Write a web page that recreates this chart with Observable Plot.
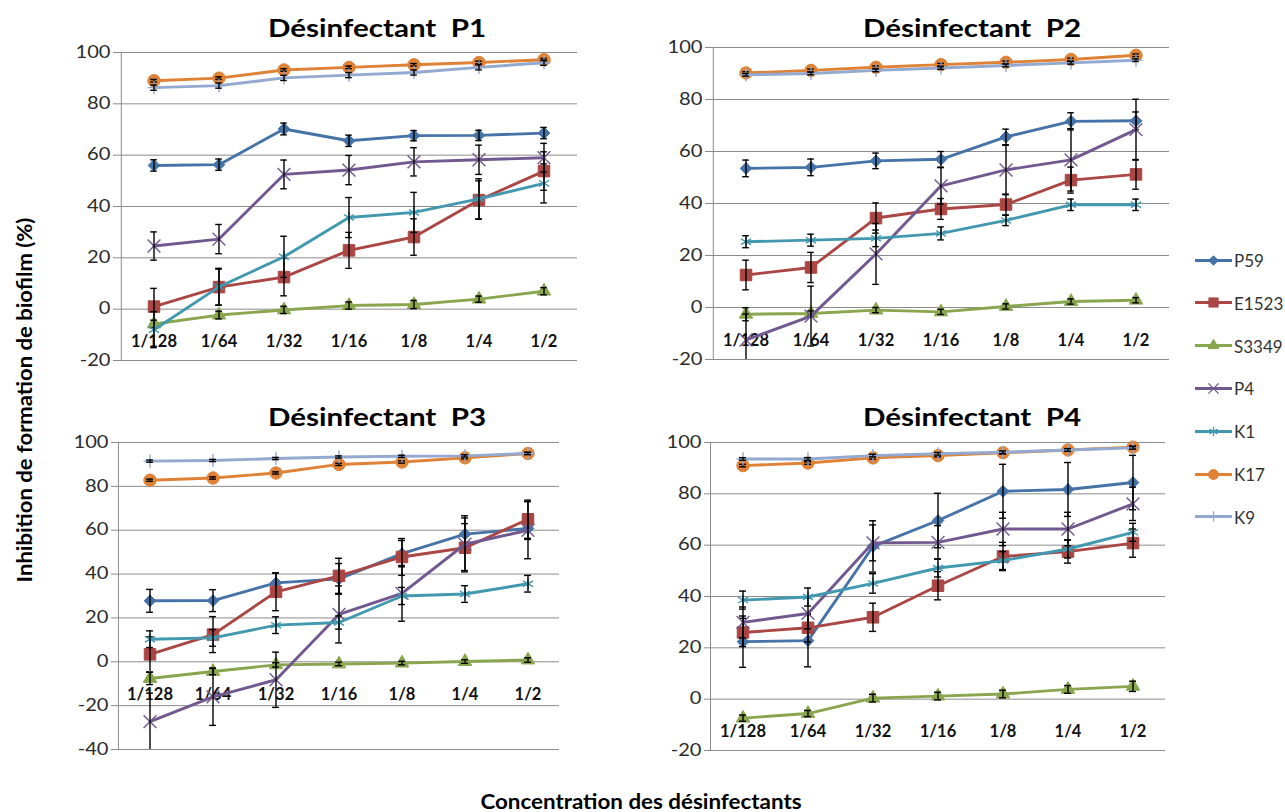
<!DOCTYPE html>
<html>
<head>
<meta charset="utf-8">
<script src="https://cdn.jsdelivr.net/npm/d3@7"></script>
<script src="https://cdn.jsdelivr.net/npm/@observablehq/plot@0.6"></script>
<style>
  body { margin: 0; background: #fff; }
  #root { position: relative; width: 1285px; height: 812px; overflow: hidden; background: #fff; font-family: Lato, "Open Sans", sans-serif; }
  .ptitle { position: absolute; font-weight: bold; font-size: 24px; color: #000; transform: translate(-50%, -50%) scaleX(1.23); white-space: pre; line-height: 1; }
  .ytitle { position: absolute; left: 23px; top: 400px; transform: translate(-50%, -50%) rotate(-90deg) scaleX(1.05); font-weight: bold; font-size: 21px; white-space: nowrap; color: #000; line-height: 1; }
  .xtitle { position: absolute; left: 641px; top: 800px; transform: translate(-50%, -50%) scaleX(1.065); font-weight: bold; font-size: 21px; white-space: nowrap; color: #000; line-height: 1; }
  .panel { position: absolute; }
  .panel svg { overflow: visible; }
  .leg { position: absolute; left: 1195px; display: flex; align-items: center; transform: translateY(-50%); font-size: 17px; color: #333; }
</style>
</head>
<body>
<div id="root"></div>
<script>
// ---------- data ----------
const series = ["P59", "E1523", "S3349", "P4", "K1", "K17", "K9"];
const concentrations = ["1/128", "1/64", "1/32", "1/16", "1/8", "1/4", "1/2"];
const panelTitles = ["Désinfectant  P1", "Désinfectant  P2", "Désinfectant  P3", "Désinfectant  P4"];
const yTicksMain = [-20, 0, 20, 40, 60, 80, 100];
const yTicksP3 = [-40, -20, 0, 20, 40, 60, 80, 100];
const yAxisTitle = "Inhibition de formation de biofilm (%)";
const xAxisTitle = "Concentration des désinfectants";

// rows follow the order of `series`
const p1Values = [
  [56.0, 56.3, 70.2, 65.6, 67.6, 67.7, 68.6],
  [1.0, 8.6, 12.5, 22.9, 28.1, 42.5, 53.8],
  [-5.8, -2.3, -0.3, 1.4, 1.8, 3.9, 7.0],
  [24.6, 27.3, 52.5, 54.2, 57.4, 58.2, 59.0],
  [-8.0, 8.7, 20.4, 35.7, 37.7, 43.0, 49.0],
  [89.0, 90.0, 93.2, 94.2, 95.2, 96.1, 97.2],
  [86.3, 87.1, 90.1, 91.2, 92.2, 94.2, 96.0]
];
const p1Errors = [
  [2.2, 2.2, 2.3, 2.2, 2.0, 2.0, 2.2],
  [7.1, 7.0, 7.3, 7.0, 7.1, 7.5, 7.5],
  [1.5, 1.5, 1.4, 1.4, 1.6, 1.2, 1.4],
  [5.5, 5.7, 5.6, 5.7, 5.5, 5.7, 5.6],
  [7.0, 7.2, 8.0, 7.8, 7.8, 7.8, 7.6],
  [0.5, 0.5, 0.5, 0.5, 0.5, 0.5, 0.5],
  [1.0, 1.0, 1.0, 1.0, 1.0, 1.0, 1.0]
];
const p2Values = [
  [53.5, 53.9, 56.4, 57.0, 65.6, 71.6, 71.8],
  [12.5, 15.4, 34.4, 37.9, 39.6, 49.0, 51.2],
  [-2.6, -2.3, -1.0, -1.7, 0.4, 2.3, 2.8],
  [-12.5, -3.3, 20.6, 46.8, 52.9, 56.8, 68.4],
  [25.3, 25.9, 26.6, 28.5, 33.5, 39.5, 39.5],
  [90.2, 91.2, 92.4, 93.4, 94.3, 95.4, 97.0],
  [89.5, 90.0, 91.2, 92.1, 93.1, 94.1, 95.1]
];
const p2Errors = [
  [3.2, 3.2, 3.0, 3.0, 3.0, 3.3, 3.4],
  [5.7, 5.8, 5.8, 4.0, 4.0, 5.0, 5.7],
  [2.5, 1.0, 1.0, 1.0, 1.0, 1.0, 1.0],
  [10.0, 11.5, 11.7, 7.0, 9.5, 12.0, 11.7],
  [2.3, 2.3, 3.2, 2.5, 2.0, 2.2, 2.2],
  [0.5, 0.5, 0.5, 0.5, 0.5, 0.5, 0.5],
  [0.5, 0.5, 0.5, 0.5, 0.5, 0.5, 0.5]
];
const p3Values = [
  [27.8, 27.9, 36.0, 37.8, 49.3, 58.2, 60.8],
  [3.4, 12.4, 31.9, 39.2, 47.8, 52.0, 65.0],
  [-7.6, -4.4, -1.4, -1.0, -0.6, 0.1, 0.8],
  [-27.3, -16.0, -8.2, 21.6, 31.2, 53.6, 60.0],
  [10.3, 10.9, 16.7, 17.9, 30.0, 30.9, 35.6],
  [82.8, 83.8, 86.1, 90.0, 91.1, 93.0, 95.0],
  [91.5, 91.8, 92.7, 93.4, 93.7, 93.9, 95.0]
];
const p3Errors = [
  [5.2, 5.0, 4.5, 7.0, 6.0, 8.4, 5.0],
  [8.0, 8.2, 8.6, 8.0, 8.4, 11.0, 8.7],
  [2.8, 1.5, 1.0, 0.8, 0.8, 0.8, 1.0],
  [13.0, 13.0, 12.6, 13.0, 12.7, 12.0, 13.0],
  [3.8, 3.8, 3.8, 3.0, 3.9, 3.8, 3.8],
  [0.5, 0.5, 0.5, 0.5, 0.5, 0.5, 0.5],
  [0.5, 0.5, 0.5, 0.5, 0.5, 0.5, 0.5]
];
const p4Values = [
  [22.4, 22.8, 59.5, 69.6, 81.0, 81.7, 84.4],
  [26.0, 27.8, 31.9, 44.2, 55.6, 57.5, 60.8],
  [-7.4, -5.6, 0.4, 1.2, 2.0, 3.8, 5.0],
  [29.9, 33.4, 60.9, 61.1, 66.3, 66.3, 76.1],
  [38.6, 39.8, 45.1, 51.1, 54.0, 58.5, 65.0],
  [91.0, 92.0, 94.0, 94.9, 96.0, 97.1, 98.2],
  [93.6, 93.6, 94.9, 95.6, 96.2, 97.1, 97.9]
];
const p4Errors = [
  [10.0, 10.2, 10.0, 10.6, 10.5, 10.5, 10.6],
  [5.5, 5.5, 5.5, 5.5, 5.5, 4.5, 5.5],
  [1.2, 1.2, 1.5, 1.5, 1.5, 1.5, 2.0],
  [6.0, 6.0, 7.0, 6.5, 6.5, 6.5, 6.5],
  [3.5, 3.5, 3.8, 3.5, 3.5, 3.5, 3.5],
  [0.5, 0.5, 0.5, 0.5, 0.5, 0.5, 0.5],
  [0.5, 0.5, 0.5, 0.5, 0.5, 0.5, 0.5]
];

// ---------- styles ----------
const seriesColors = ["#4572A7", "#AA4643", "#89A54E", "#71588F", "#4198AF", "#DF8236", "#93A9CF"];
const seriesSymbols = ["diamond2", "square", "triangle", "times", "asterisk", "circle", "plus"];
const seriesSymbolR = [5.3, 6.5, 5.0, 5.9, 5.5, 6.2, 4.3];
const seriesFilled = [true, true, true, false, false, true, false];
const gridColor = "#8c8c8c";

const panels = [
  {title: panelTitles[0], values: p1Values, errors: p1Errors, ticks: yTicksMain, left: 119, right: 577, top: 52, bottom: 360, titleX: 377, titleY: 28},
  {title: panelTitles[1], values: p2Values, errors: p2Errors, ticks: yTicksMain, left: 711, right: 1169, top: 47, bottom: 359, titleX: 972, titleY: 28},
  {title: panelTitles[2], values: p3Values, errors: p3Errors, ticks: yTicksP3, left: 117, right: 559, top: 442, bottom: 749, titleX: 377, titleY: 417},
  {title: panelTitles[3], values: p4Values, errors: p4Errors, ticks: yTicksMain, left: 710, right: 1165, top: 442, bottom: 750, titleX: 972, titleY: 417}
];

const root = document.getElementById("root");

function drawPanel(cfg) {
  const ml = 60, mr = 15, mt = 15, mb = 15;
  const width = cfg.right - cfg.left + ml + mr;
  const height = cfg.bottom - cfg.top + mt + mb;
  const bw = (cfg.right - cfg.left) / concentrations.length;
  const capInset = (bw - 7) / 2;

  const rows = [];
  series.forEach((s, si) => concentrations.forEach((c, ci) => {
    rows.push({series: s, si, conc: c, v: cfg.values[si][ci], e: cfg.errors[si][ci]});
  }));

  const marks = [
    Plot.gridY({ticks: cfg.ticks, stroke: gridColor, strokeOpacity: 1, strokeWidth: 1}),
    Plot.axisY({ticks: cfg.ticks, tickSize: 6, tickPadding: 3, stroke: gridColor, fill: "#2b2b2b", fontSize: 16.5, label: null, tickFormat: d => String(d)}),
    Plot.ruleX([concentrations[0]], {x: d => d, dx: -bw / 2, stroke: gridColor, strokeWidth: 1}),
    Plot.text(concentrations, {x: d => d, y: () => 0, dy: 33, text: d => d, fontWeight: "bold", fontSize: 16.5, fill: "#111"})
  ];
  series.forEach((s, si) => {
    const sr = rows.filter(d => d.si === si);
    const col = seriesColors[si];
    marks.push(Plot.line(sr, {x: "conc", y: "v", stroke: col, strokeWidth: 2.9}));
    marks.push(Plot.dot(sr, {
      x: "conc", y: "v", symbol: seriesSymbols[si], r: seriesSymbolR[si],
      fill: seriesFilled[si] ? col : "none", stroke: col, strokeWidth: seriesFilled[si] ? 1 : 1.4
    }));
    marks.push(Plot.ruleX(sr, {x: "conc", y1: d => d.v - d.e, y2: d => d.v + d.e, stroke: "#000", strokeWidth: 1.4, clip: true}));
    marks.push(Plot.tickY(sr, {x: "conc", y: d => d.v + d.e, insetLeft: capInset, insetRight: capInset, stroke: "#000", strokeWidth: 1.4, clip: true}));
    marks.push(Plot.tickY(sr, {x: "conc", y: d => d.v - d.e, insetLeft: capInset, insetRight: capInset, stroke: "#000", strokeWidth: 1.4, clip: true}));
  });

  const svg = Plot.plot({
    width, height,
    marginLeft: ml, marginRight: mr, marginTop: mt, marginBottom: mb,
    style: {fontFamily: "Lato, 'Open Sans', sans-serif", background: "transparent", overflow: "visible"},
    x: {type: "band", domain: concentrations, padding: 0, axis: null},
    y: {domain: [cfg.ticks[0], cfg.ticks[cfg.ticks.length - 1]], axis: null},
    marks
  });
  const wrap = document.createElement("div");
  wrap.className = "panel";
  wrap.style.left = (cfg.left - ml) + "px";
  wrap.style.top = (cfg.top - mt) + "px";
  wrap.appendChild(svg);
  root.appendChild(wrap);

  // widen the y tick labels to match the reference's letter shapes
  svg.querySelectorAll('g[aria-label="y-axis tick label"] text').forEach(el => {
    const L = el.getComputedTextLength();
    if (L > 0) {
      el.setAttribute("textLength", (L * 1.22).toFixed(1));
      el.setAttribute("lengthAdjust", "spacingAndGlyphs");
    }
  });

  const t = document.createElement("div");
  t.className = "ptitle";
  t.textContent = cfg.title;
  t.style.left = cfg.titleX + "px";
  t.style.top = cfg.titleY + "px";
  root.appendChild(t);
}

panels.forEach(drawPanel);

// axis titles
const yt = document.createElement("div");
yt.className = "ytitle"; yt.textContent = yAxisTitle; root.appendChild(yt);
const xt = document.createElement("div");
xt.className = "xtitle"; xt.textContent = xAxisTitle; root.appendChild(xt);

// legend
const d3Symbols = {diamond2: d3.symbolDiamond2, square: d3.symbolSquare, triangle: d3.symbolTriangle, times: d3.symbolTimes, asterisk: d3.symbolAsterisk, circle: d3.symbolCircle, plus: d3.symbolPlus};
const legendTop = 260, legendStep = 42.8;
series.forEach((s, si) => {
  const row = document.createElement("div");
  row.className = "leg";
  row.style.top = (legendTop + si * legendStep) + "px";
  const sw = d3.create("svg").attr("width", 39).attr("height", 16);
  sw.append("line").attr("x1", 0).attr("x2", 37).attr("y1", 8).attr("y2", 8).attr("stroke", seriesColors[si]).attr("stroke-width", 2.9);
  const r = seriesSymbolR[si] * 0.8;
  sw.append("path")
    .attr("transform", "translate(18.5,8)")
    .attr("d", d3.symbol(d3Symbols[seriesSymbols[si]], Math.PI * r * r)())
    .attr("fill", seriesFilled[si] ? seriesColors[si] : "none")
    .attr("stroke", seriesColors[si])
    .attr("stroke-width", seriesFilled[si] ? 1 : 1.3);
  row.appendChild(sw.node());
  const lab = document.createElement("span");
  lab.textContent = s;
  row.appendChild(lab);
  root.appendChild(row);
});
</script>
</body>
</html>
